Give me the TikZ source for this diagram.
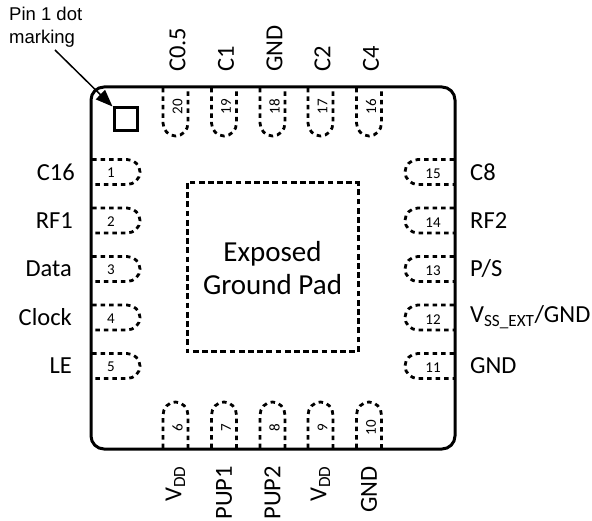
\documentclass[tikz,border=0pt]{standalone}
\usepackage{fontspec}
\setmainfont{Carlito}
\newfontfamily\notefont{Liberation Sans}
\usetikzlibrary{arrows.meta}
\tikzset{
  x=1pt,y=-1pt,
  pkg/.style={line width=3pt,rounded corners=13pt},
  pinline/.style={line width=2.8pt,dash pattern=on 4.5pt off 4pt},
  padline/.style={line width=3pt,dash pattern=on 5.8pt off 3.4pt},
  lab/.style={font=\fontsize{24.5}{24.5}\selectfont,inner sep=0pt},
  num/.style={font=\fontsize{15}{15}\selectfont,inner sep=0pt},
  notetext/.style={font=\notefont\fontsize{18.5}{23}\selectfont,align=left,inner sep=0pt},
}
\begin{document}
\begin{tikzpicture}
\useasboundingbox (0,0) rectangle (592,521);
\draw[pkg] (91,87) rectangle (455,449);
\node[draw,line width=3pt,minimum size=23pt,inner sep=0pt] (marker) at (125.5,119.5) {};
\node[notetext,anchor=north west] (note) at (9,7) {Pin 1 dot\\marking};
\coordinate (arrowstart) at (55,50);
\draw[line width=1.5pt,-{Triangle[length=17pt,width=13pt]}] (arrowstart) -- (marker.north west);
% centre pad
\draw[padline] (187,183) rectangle (358,352);
\node[font=\fontsize{29}{33}\selectfont,align=center,inner sep=0pt] (padlabel) at (272.5,268) {Exposed\\Ground Pad};
% left pins
\foreach \n/\y/\t/\e in {1/172/C16/75,2/220.5/RF1/73,3/269/Data/72,4/317.5/Clock/72,5/366/LE/72}{
  \draw[pinline] (92,\y-12.5) -- (127,\y-12.5) arc[start angle=90,end angle=-90,x radius=13pt,y radius=12.5pt] -- (92,\y+12.5);
  \node[num] (p\n) at (111,\y+1) {\n};
  \node[lab,anchor=east] (l\n) at (\e,\y) {\t};
}
% right pins
\foreach \n/\y/\t in {15/172/C8,14/220.5/RF2,13/269/{P/S},11/366/GND}{
  \draw[pinline] (454,\y-12.5) -- (418,\y-12.5) arc[start angle=90,end angle=270,x radius=13pt,y radius=12.5pt] -- (454,\y+12.5);
  \node[num] (p\n) at (433,\y+2) {\n};
  \node[lab,anchor=west] (l\n) at (470,\y) {\t};
}
\draw[pinline] (454,305) -- (418,305) arc[start angle=90,end angle=270,x radius=13pt,y radius=12.5pt] -- (454,330);
\node[num] (p12) at (433,319.5) {12};
\node[lab,anchor=west] (l12) at (470,317.5) {V\textsubscript{SS\_EXT}/GND};
% top pins
\foreach \n/\x/\t in {20/175.5/C0.5,19/224/C1,18/272.5/GND,17/320.5/C2,16/369/C4}{
  \draw[pinline] (\x-12.5,88) -- (\x-12.5,123) arc[start angle=180,end angle=360,x radius=12.5pt,y radius=13pt] -- (\x+12.5,88);
  \node[num,rotate=90] (p\n) at (\x+2,107) {\n};
  \node[lab,rotate=90,anchor=west] (l\n) at (\x+2,72) {\t};
}
% bottom pins
\foreach \n/\x/\t in {6/175.5/V\textsubscript{DD},7/224/PUP1,8/272.5/PUP2,9/320.5/V\textsubscript{DD},10/369/GND}{
  \draw[pinline] (\x-12.5,448) -- (\x-12.5,415) arc[start angle=180,end angle=0,x radius=12.5pt,y radius=13pt] -- (\x+12.5,448);
  \node[num,rotate=90] (p\n) at (\x+2,428) {\n};
  \node[lab,rotate=90,anchor=east] (l\n) at (\x,466) {\t};
}
\end{tikzpicture}
\end{document}
